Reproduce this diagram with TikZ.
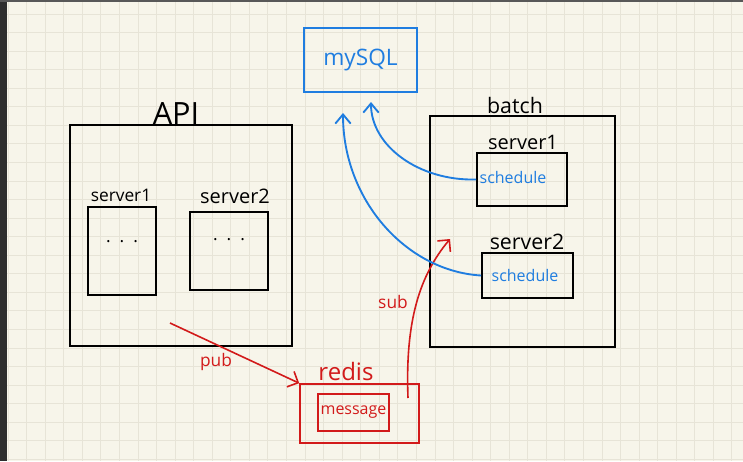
\documentclass[tikz,border=0pt]{standalone}
\usepackage{fontspec}
\setmainfont{Open Sans}
\usetikzlibrary{arrows.meta}
\definecolor{paper}{HTML}{F7F5EA}
\definecolor{gridline}{HTML}{E7E4D7}
\definecolor{frame}{HTML}{2E2E2E}
\definecolor{sqlblue}{HTML}{1F7DE0}
\definecolor{redisred}{HTML}{D21A1A}
\begin{document}
\begin{tikzpicture}[x=0.75pt, y=-0.75pt,
  box/.style={draw, line width=1.4pt, inner sep=0pt},
  bluebox/.style={draw=sqlblue, line width=1.4pt, inner sep=0pt},
  redbox/.style={draw=redisred, line width=1.2pt, inner sep=0pt},
  lbl/.style={inner sep=0pt},
  bluearrow/.style={draw=sqlblue, line width=1.4pt, -{Straight Barb[angle=80:9pt]}},
  redarrow/.style={draw=redisred, line width=1.2pt, -{Straight Barb[angle=90:9pt]}}]
% paper
\useasboundingbox (0,0) rectangle (743,461);
\fill[paper] (0,0) rectangle (743,461);
\foreach \i in {0,...,39} \draw[gridline, line width=0.7pt] ({8.1+18.56*\i},0) -- ({8.1+18.56*\i},461);
\foreach \j in {0,...,24} \draw[gridline, line width=0.7pt] (0,{14+18.56*\j}) -- (743,{14+18.56*\j});
\fill[frame] (0,0) rectangle (7,461);
\fill[frame!80] (0,0) rectangle (743,1.5);

\node[bluebox, minimum width=84.75pt, minimum height=48pt, text=sqlblue, font=\fontsize{17}{20}\selectfont] (mysql) at (360.5,60) {mySQL};

% API side
\node[box, minimum width=166.5pt, minimum height=165.75pt] (api) at (181,235.5) {};
\node[lbl, font=\fontsize{23}{26}\selectfont] (apilabel) at (176,114) {API};
\node[box, minimum width=51pt, minimum height=66pt] (aserver1) at (122,251) {};
\node[lbl, font=\fontsize{13}{15}\selectfont] (aserver1label) at (121,195) {server1};
\node[lbl, font=\fontsize{13}{15}\selectfont] (dots1) at (122,242) {.\ \ .\ \ .};
\node[box, minimum width=58.5pt, minimum height=58.5pt] (aserver2) at (229,251) {};
\node[lbl, font=\fontsize{15}{17}\selectfont] (aserver2label) at (235,196) {server2};
\node[lbl, font=\fontsize{13}{15}\selectfont] (dots2) at (229,240) {.\ \ .\ \ .};

% batch side
\node[box, minimum width=138.75pt, minimum height=173.25pt] (batch) at (522.5,231.5) {};
\node[lbl, font=\fontsize{16}{18}\selectfont] (batchlabel) at (515,105) {batch};
\node[box, minimum width=67.5pt, minimum height=39.75pt] (bserver1) at (522,179.5) {};
\node[lbl, font=\fontsize{15}{17}\selectfont] (bserver1label) at (523,142) {server1};
\node[lbl, text=sqlblue, font=\fontsize{12}{14}\selectfont] (sched1) at (513,177) {schedule};
\node[box, minimum width=68.25pt, minimum height=33.75pt] (bserver2) at (527.5,275.5) {};
\node[lbl, font=\fontsize{16}{18}\selectfont] (bserver2label) at (527,242) {server2};
\node[lbl, text=sqlblue, font=\fontsize{12}{14}\selectfont] (sched2) at (525,275) {schedule};

% redis
\node[redbox, minimum width=89.25pt, minimum height=44.25pt] (redis) at (359.5,413.5) {};
\node[lbl, text=redisred, font=\fontsize{18}{20}\selectfont] (redislabel) at (346,371) {redis};
\node[redbox, minimum width=53.25pt, minimum height=27.75pt, text=redisred, font=\fontsize{12}{14}\selectfont] (message) at (353.5,412.5) {message};

\coordinate (pubstart) at (170,323);
\coordinate (substart) at (408,398);
\coordinate (subend) at (450,239);
\coordinate (sqlin1) at (371,102);
\coordinate (sqlin2) at (343,113);

\draw[redarrow] (pubstart) -- (redis.north west);
\node[lbl, text=redisred, font=\fontsize{13}{15}\selectfont] (publabel) at (216,362) {pub};
\draw[redarrow] (substart) .. controls (405,320) and (420,275) .. (subend);
\node[lbl, text=redisred, font=\fontsize{13}{15}\selectfont] (sublabel) at (393,302) {sub};

\draw[bluearrow] (bserver1.west) .. controls (419,181) and (371,146) .. (sqlin1);
\draw[bluearrow] (bserver2.west) .. controls (406,271) and (343,200) .. (sqlin2);
\end{tikzpicture}
\end{document}
